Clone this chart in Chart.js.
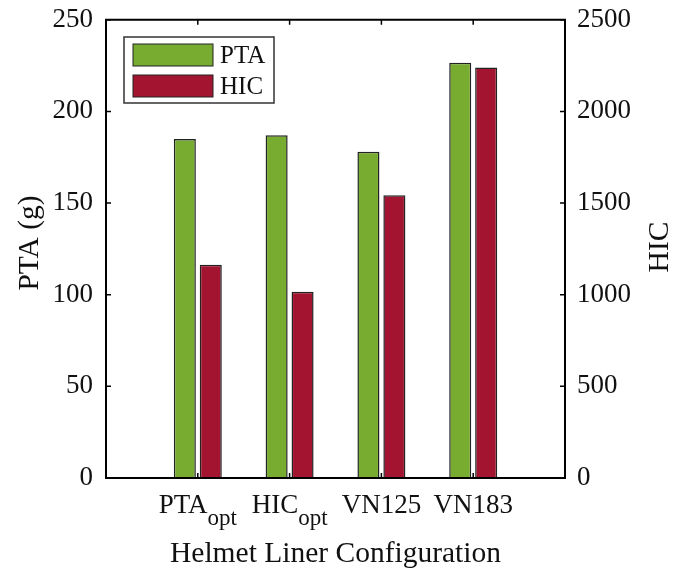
<!DOCTYPE html>
<html lang="en">
<head>
  <meta charset="UTF-8">
  <title>Helmet Liner Configuration</title>
  <script src="https://cdn.jsdelivr.net/npm/chart.js"></script>
  <style>
    body { margin: 0; background: #fff; }
    #wrap { width: 682px; height: 569px; }
  </style>
</head>
<body>
<div id="wrap"><canvas id="chart" width="682" height="569"></canvas></div>
<script>
  const categories = ['PTA', 'HIC', 'VN125', 'VN183'];
  const subscripts = ['opt', 'opt', '', ''];
  const ptaValues = [185, 187, 178, 226.5];
  const hicValues = [1163, 1016, 1543, 2239];
  const seriesNames = ['PTA', 'HIC'];
  const seriesColors = ['#77ac30', '#a2142f'];
  const xTitle = 'Helmet Liner Configuration';
  const yTitle = 'PTA (g)';
  const y1Title = 'HIC';

  const FONT = "'Liberation Serif', 'Times New Roman', serif";
  const TICK_PX = 27;
  const LABEL_PX = 29.5;

  // MATLAB look: box, inward ticks, legend inside, subscript labels, axis titles
  const matlabStyle = {
    id: 'matlabStyle',
    afterDraw(chart) {
      const c = chart.ctx;
      const a = chart.chartArea;
      const x = chart.scales.x, y = chart.scales.y, y1 = chart.scales.y1;
      c.save();
      c.strokeStyle = '#000';
      c.lineWidth = 2;
      c.strokeRect(a.left, a.top, a.right - a.left, a.bottom - a.top);
      c.lineWidth = 1.5;
      c.beginPath();
      categories.forEach((_, i) => {
        const px = x.getPixelForValue(i + 1);
        c.moveTo(px, a.bottom); c.lineTo(px, a.bottom - 5);
        c.moveTo(px, a.top); c.lineTo(px, a.top + 5);
      });
      y.ticks.forEach(t => {
        const py = y.getPixelForValue(t.value);
        c.moveTo(a.left, py); c.lineTo(a.left + 5, py);
      });
      y1.ticks.forEach(t => {
        const py = y1.getPixelForValue(t.value);
        c.moveTo(a.right, py); c.lineTo(a.right - 5, py);
      });
      c.stroke();

      // category labels with subscripts
      c.fillStyle = '#111';
      c.textBaseline = 'alphabetic';
      c.textAlign = 'left';
      categories.forEach((lab, i) => {
        const px = x.getPixelForValue(i + 1);
        c.font = TICK_PX + 'px ' + FONT;
        const w1 = c.measureText(lab).width;
        c.font = '23px ' + FONT;
        const w2 = subscripts[i] ? c.measureText(subscripts[i]).width : 0;
        const x0 = px - (w1 + w2) / 2;
        c.font = TICK_PX + 'px ' + FONT;
        c.fillText(lab, x0, a.bottom + 35);
        if (subscripts[i]) {
          c.font = '23px ' + FONT;
          c.fillText(subscripts[i], x0 + w1, a.bottom + 47);
        }
      });

      // axis titles
      c.font = LABEL_PX + 'px ' + FONT;
      c.textAlign = 'center';
      c.fillText(xTitle, (a.left + a.right) / 2, 562);
      c.save();
      c.translate(38, 243);
      c.rotate(-Math.PI / 2);
      c.fillText(yTitle, 0, 0);
      c.restore();
      c.save();
      c.translate(668, 247);
      c.rotate(-Math.PI / 2);
      c.fillText(y1Title, 0, 0);
      c.restore();

      // legend
      c.textAlign = 'left';
      const lx = 124, ly = 37, lw = 150, lh = 66;
      c.fillStyle = '#fff';
      c.fillRect(lx, ly, lw, lh);
      c.strokeStyle = '#333';
      c.lineWidth = 1.5;
      c.strokeRect(lx, ly, lw, lh);
      chart.data.datasets.forEach((ds, i) => {
        const sy = ly + 7 + i * 31;
        c.fillStyle = ds.backgroundColor;
        c.fillRect(lx + 9, sy, 80, 22);
        c.strokeStyle = '#222';
        c.lineWidth = 1;
        c.strokeRect(lx + 9, sy, 80, 22);
        c.fillStyle = '#111';
        c.font = '25px ' + FONT;
        c.textBaseline = 'middle';
        c.fillText(ds.label, lx + 96, sy + 12);
      });
      c.restore();
    }
  };

  const barOpts = {
    borderColor: '#222',
    borderWidth: 1.5,
    categoryPercentage: 0.565,
    barPercentage: 0.85
  };

  new Chart(document.getElementById('chart'), {
    type: 'bar',
    data: {
      datasets: [
        Object.assign({
          label: seriesNames[0],
          data: ptaValues.map((v, i) => ({ x: i + 1, y: v })),
          backgroundColor: seriesColors[0],
          yAxisID: 'y'
        }, barOpts),
        Object.assign({
          label: seriesNames[1],
          data: hicValues.map((v, i) => ({ x: i + 1, y: v })),
          backgroundColor: seriesColors[1],
          yAxisID: 'y1'
        }, barOpts)
      ]
    },
    options: {
      responsive: false,
      animation: false,
      layout: { padding: { top: 18 } },
      plugins: { legend: { display: false }, tooltip: { enabled: false } },
      scales: {
        x: {
          type: 'linear',
          offset: false,
          min: 0,
          max: 5,
          grid: { display: false, offset: false },
          border: { display: false },
          ticks: { display: false, stepSize: 1 },
          afterFit: s => { s.height = 91; }
        },
        y: {
          position: 'left',
          min: 0,
          max: 250,
          grid: { display: false, drawTicks: false },
          border: { display: false },
          ticks: {
            stepSize: 50, padding: 13, color: '#111',
            font: { family: FONT, size: TICK_PX, lineHeight: 0.5 },
            callback: v => String(v)
          },
          afterFit: s => { s.width = 106; }
        },
        y1: {
          position: 'right',
          min: 0,
          max: 2500,
          grid: { display: false, drawTicks: false },
          border: { display: false },
          ticks: {
            stepSize: 500, padding: 12, color: '#111',
            font: { family: FONT, size: TICK_PX, lineHeight: 0.5 },
            callback: v => String(v)
          },
          afterFit: s => { s.width = 117; }
        }
      }
    },
    plugins: [matlabStyle]
  });
</script>
</body>
</html>
